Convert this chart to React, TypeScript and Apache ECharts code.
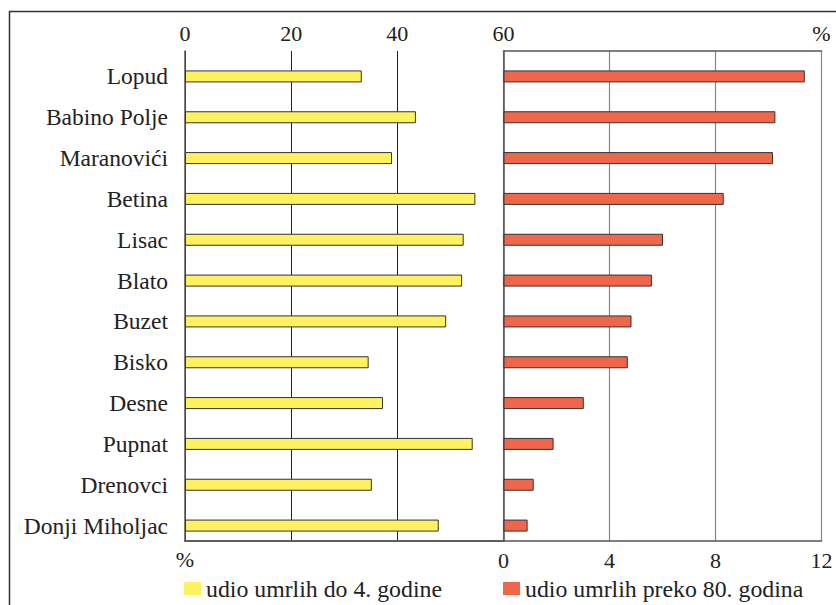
import React, { useEffect, useRef } from "react";
import * as echarts from "echarts";

const categories = [
  "Lopud",
  "Babino Polje",
  "Maranovići",
  "Betina",
  "Lisac",
  "Blato",
  "Buzet",
  "Bisko",
  "Desne",
  "Pupnat",
  "Drenovci",
  "Donji Miholjac",
];
const under4 = [33.3, 43.5, 39.0, 54.7, 52.5, 52.2, 49.2, 34.6, 37.3, 54.2, 35.2, 47.8];
const over80 = [11.37, 10.26, 10.17, 8.31, 6.02, 5.6, 4.83, 4.69, 3.03, 1.89, 1.14, 0.91];
const seriesNames = ["udio umrlih do 4. godine", "udio umrlih preko 80. godina"];
const leftTicks = { min: 0, max: 60, interval: 20 };
const rightTicks = { min: 0, max: 12, interval: 4 };

const FONT = "Liberation Serif";
const YELLOW = "#fff25f";
const RED = "#f0664a";

export default function App() {
  const ref = useRef<HTMLDivElement>(null);
  useEffect(() => {
    if (!ref.current) return;
    const chart = echarts.init(ref.current, null, { renderer: "svg" });
    const L = 185, M = 503.5, R = 821.5, T = 51, H = 490, OFF = 5;
    const axisLineStyle = { color: "#555", width: 1.5 };
    const tickLabel = { fontFamily: FONT, fontSize: 22, color: "#222" };
    const legendCommon = {
      top: 576.5, itemWidth: 17, itemHeight: 13, icon: "rect", itemGap: 7, padding: 0,
      itemStyle: { borderWidth: 0 },
      textStyle: { fontFamily: FONT, fontSize: 23.8, color: "#222", padding: [6, 0, 0, 0] },
    };
    chart.setOption({
      animation: false,
      backgroundColor: "#fff",
      grid: [
        { left: L, top: T, width: M - L, height: H },
        { left: M, top: T, width: R - M, height: H },
        { left: L, top: T + OFF, width: M - L, height: H },
        { left: M, top: T + OFF, width: R - M, height: H },
      ],
      xAxis: [
        {
          gridIndex: 0, type: "value", position: "top", ...leftTicks,
          axisLine: { show: true, lineStyle: axisLineStyle },
          axisTick: { show: false },
          axisLabel: { ...tickLabel, margin: 7 },
          splitLine: { show: true, lineStyle: { color: "#222", width: 1 } },
        },
        {
          gridIndex: 0, type: "value", position: "bottom", ...leftTicks,
          axisLine: { show: true, lineStyle: axisLineStyle },
          axisTick: { show: false },
          axisLabel: { ...tickLabel, margin: 7, formatter: (v: number) => (v === 0 ? "%" : "") },
          splitLine: { show: false },
        },
        {
          gridIndex: 1, type: "value", position: "bottom", ...rightTicks,
          axisLine: { show: true, lineStyle: axisLineStyle },
          axisTick: { show: false },
          axisLabel: { ...tickLabel, margin: 8 },
          splitLine: { show: true, lineStyle: { color: "#888", width: 1.2 } },
        },
        {
          gridIndex: 1, type: "value", position: "top", ...rightTicks,
          axisLine: { show: true, lineStyle: axisLineStyle },
          axisTick: { show: false },
          axisLabel: { ...tickLabel, margin: 7, formatter: (v: number) => (v === 12 ? "%" : "") },
          splitLine: { show: false },
        },
        { gridIndex: 2, type: "value", ...leftTicks, show: false },
        { gridIndex: 3, type: "value", ...rightTicks, show: false },
      ],
      yAxis: [
        {
          gridIndex: 0, type: "value", position: "left",
          axisLine: { show: true, onZero: false, lineStyle: { color: "#555", width: 1.5 } },
          axisTick: { show: false }, axisLabel: { show: false }, splitLine: { show: false },
        },
        {
          gridIndex: 1, type: "value", position: "left",
          axisLine: { show: true, onZero: false, lineStyle: { color: "#555", width: 1.5 } },
          axisTick: { show: false }, axisLabel: { show: false }, splitLine: { show: false },
        },
        {
          gridIndex: 2, type: "category", data: categories, inverse: true,
          axisLine: { show: false }, axisTick: { show: false }, splitLine: { show: false },
          axisLabel: { fontFamily: FONT, fontSize: 23.5, color: "#222", margin: 17 },
        },
        {
          gridIndex: 3, type: "category", data: categories, inverse: true,
          axisLine: { show: false }, axisTick: { show: false }, splitLine: { show: false },
          axisLabel: { show: false },
        },
      ],
      legend: [
        { ...legendCommon, data: [seriesNames[0]], left: 184 },
        { ...legendCommon, data: [seriesNames[1]], left: 503 },
      ],
      graphic: [
        {
          type: "rect", left: 7, top: 9, silent: true, z: 100,
          shape: { x: 0, y: 0, width: 1000, height: 1000 },
          style: { fill: "none", stroke: "#333", lineWidth: 1.5 },
        },
      ],
      series: [
        {
          name: seriesNames[0], type: "bar", xAxisIndex: 4, yAxisIndex: 2, data: under4,
          barWidth: 12,
          itemStyle: { color: YELLOW, borderColor: "#333", borderWidth: 1 },
        },
        {
          name: seriesNames[1], type: "bar", xAxisIndex: 5, yAxisIndex: 3, data: over80,
          barWidth: 12,
          itemStyle: { color: RED, borderColor: "#333", borderWidth: 1 },
        },
      ],
    });
    return () => chart.dispose();
  }, []);
  return (
    <div
      ref={ref}
      style={{ position: "absolute", left: 0, top: 0, width: 836, height: 605 }}
    />
  );
}
